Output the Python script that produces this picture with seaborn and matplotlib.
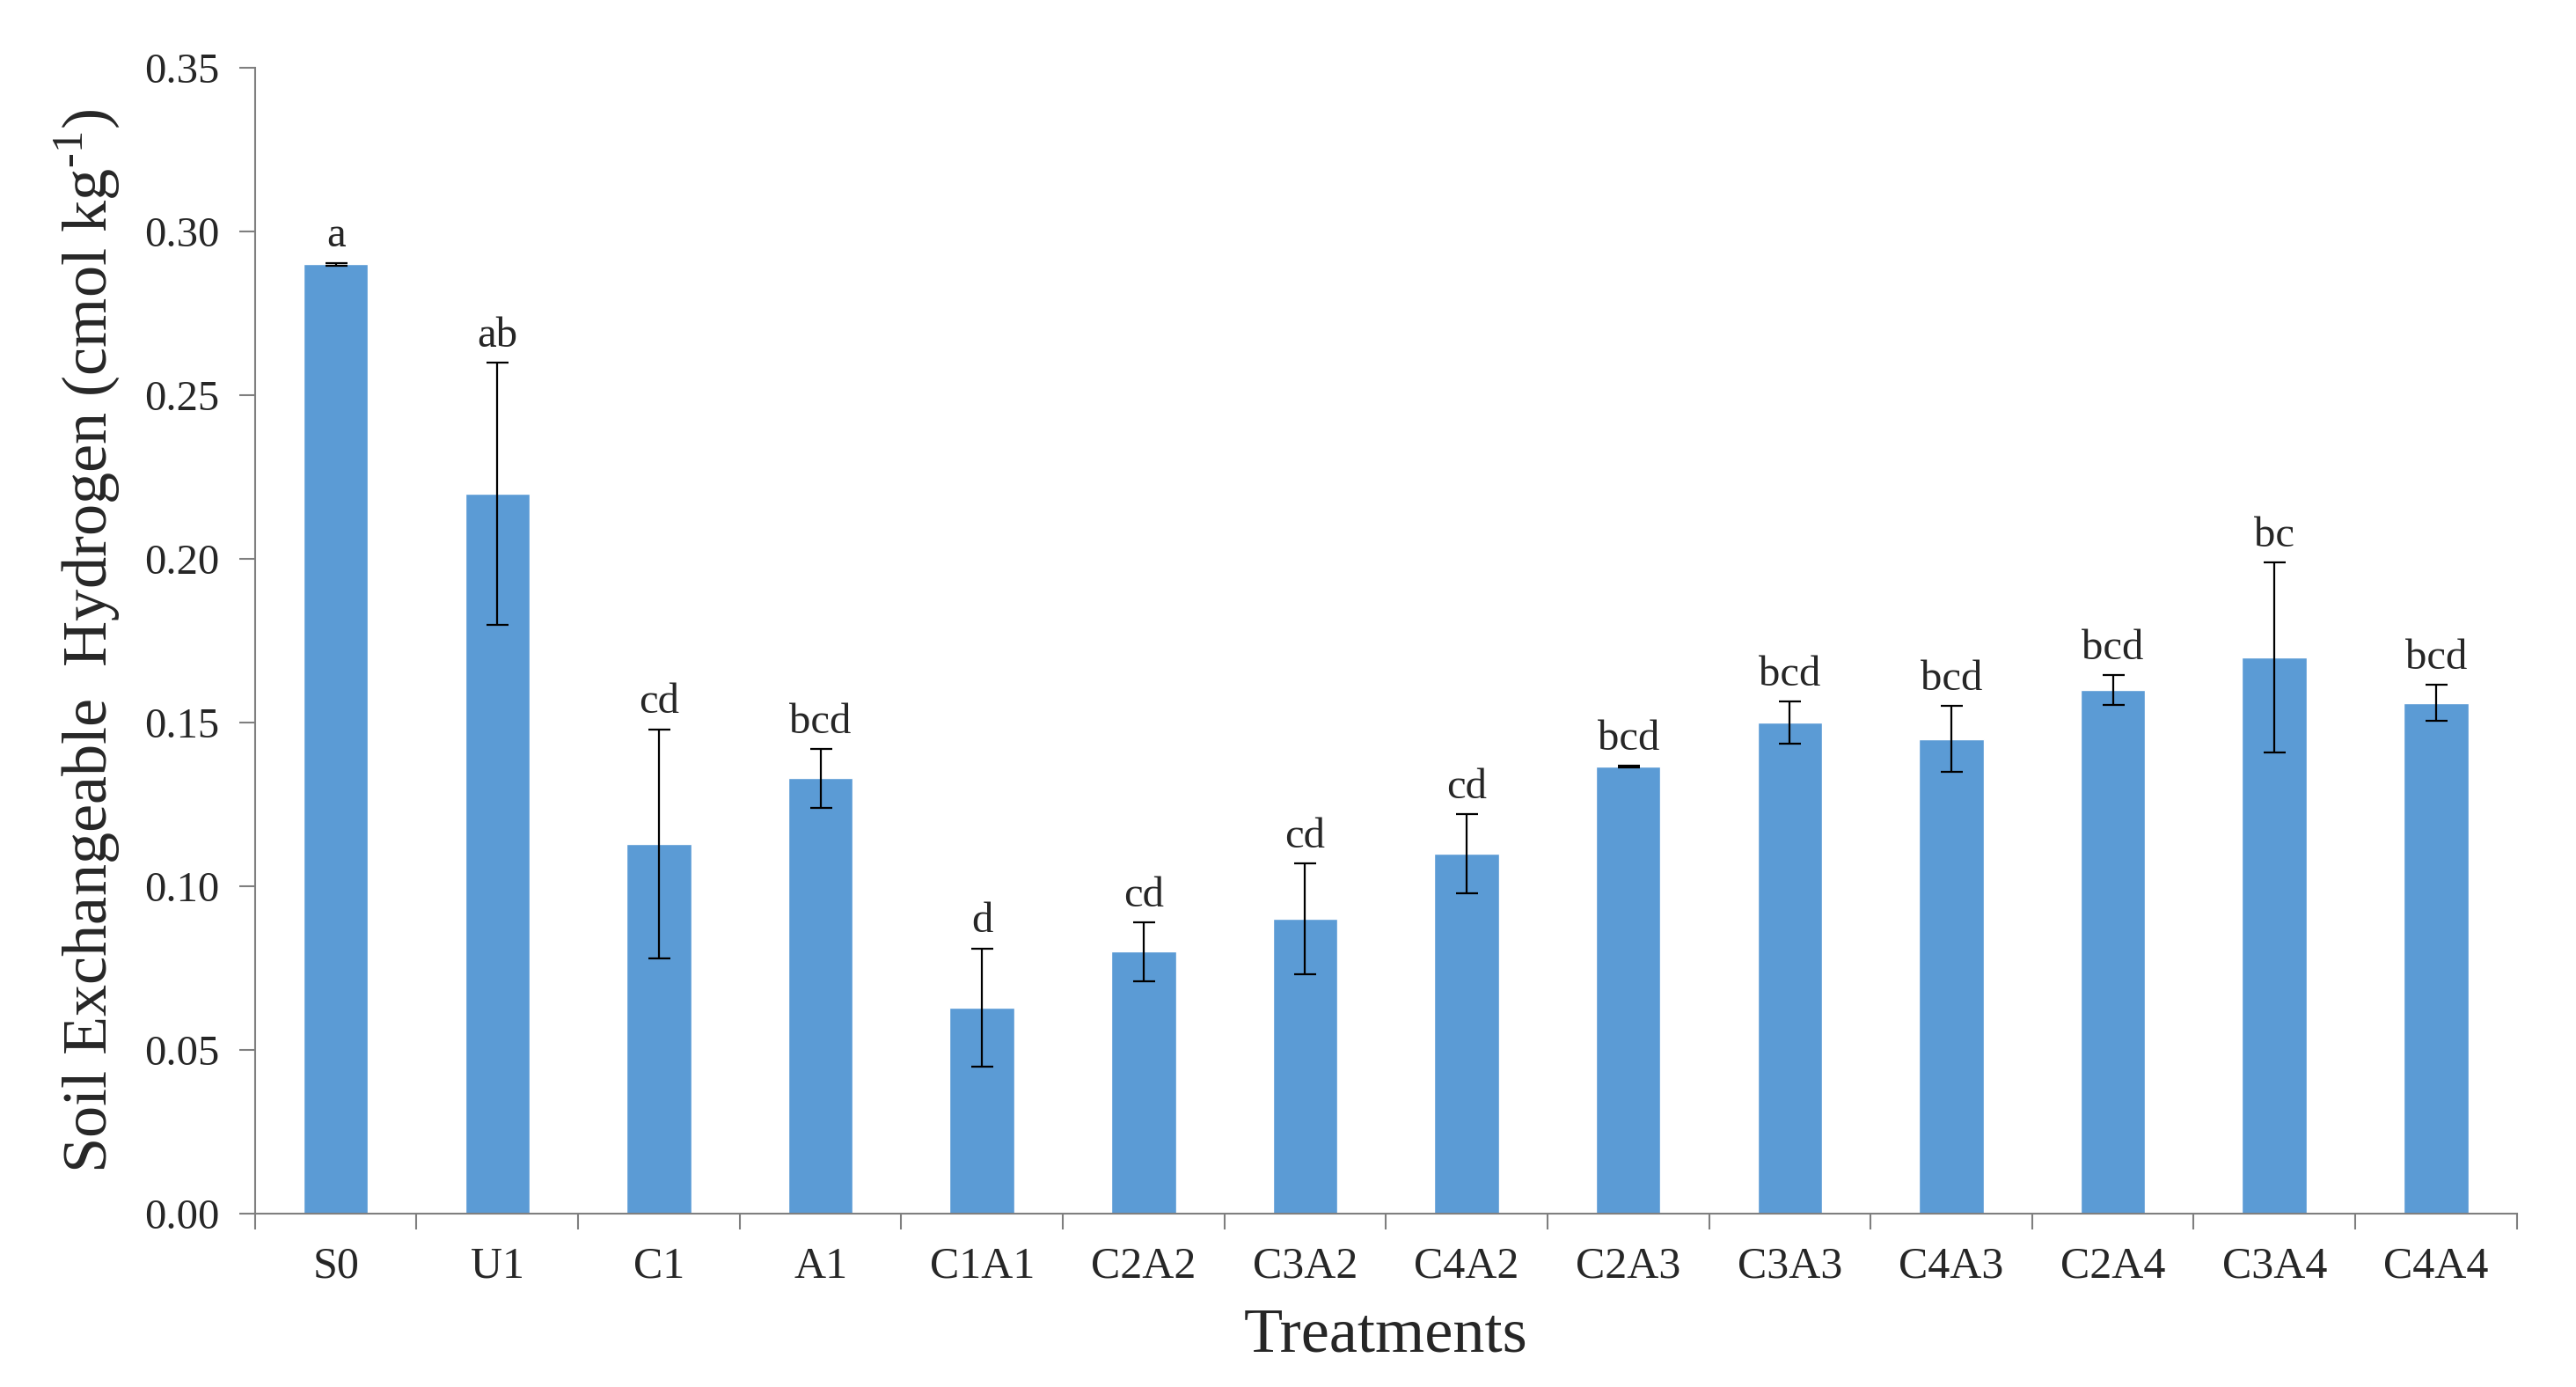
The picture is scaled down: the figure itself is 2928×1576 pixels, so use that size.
import numpy as np
import pandas as pd
import matplotlib
matplotlib.use('Agg')
import matplotlib.pyplot as plt
from matplotlib.ticker import FixedLocator
import seaborn as sns

# Данные
treatments = ['S0', 'U1', 'C1', 'A1', 'C1A1', 'C2A2', 'C3A2', 'C4A2',
              'C2A3', 'C3A3', 'C4A3', 'C2A4', 'C3A4', 'C4A4']
means = [0.290, 0.220, 0.113, 0.133, 0.063, 0.080, 0.090, 0.110,
         0.1365, 0.150, 0.145, 0.160, 0.170, 0.156]
errors = [0.0005, 0.040, 0.035, 0.009, 0.018, 0.009, 0.017, 0.012,
          0.0003, 0.0065, 0.010, 0.0045, 0.029, 0.0055]
letters = ['a', 'ab', 'cd', 'bcd', 'd', 'cd', 'cd', 'cd',
           'bcd', 'bcd', 'bcd', 'bcd', 'bc', 'bcd']

df = pd.DataFrame({'Treatment': treatments, 'Mean': means, 'SE': errors})

sns.set_style('white')
plt.rcParams['font.family'] = ['Liberation Serif', 'DejaVu Serif']
plt.rcParams['mathtext.fontset'] = 'custom'
plt.rcParams['mathtext.rm'] = 'Liberation Serif'

fig = plt.figure(figsize=(29.28, 15.76), dpi=100)
ax = fig.add_axes([0.099, 0.125, 0.878, 0.826])

sns.barplot(data=df, x='Treatment', y='Mean', color='#5B9BD5',
            width=0.4, errorbar=None, saturation=1, ax=ax)

# Планки погрешностей
ax.errorbar(np.arange(len(treatments)), df['Mean'], yerr=df['SE'],
            fmt='none', ecolor='black', elinewidth=1.6, capsize=9, capthick=1.6)

# Буквенные обозначения над столбцами
for i, (m, e, lab) in enumerate(zip(means, errors, letters)):
    ax.annotate(lab, (i, m + e), xytext=(0, 6), textcoords='offset points',
                ha='center', va='bottom', fontsize=35)

ax.set_ylim(0, 0.35)
ax.set_xlim(-0.5, len(treatments) - 0.5)
ax.set_yticks(np.arange(0, 0.351, 0.05))
ax.set_yticklabels([f'{v:.2f}' for v in np.arange(0, 0.351, 0.05)])

# Деления оси X между категориями
ax.xaxis.set_minor_locator(FixedLocator(np.arange(-0.5, len(treatments), 1)))
ax.tick_params(axis='x', which='major', length=0, pad=27, labelsize=36)
ax.tick_params(axis='x', which='minor', length=13, width=1.5, color='#7f7f7f', direction='out')
ax.tick_params(axis='y', which='major', length=13, width=1.5, color='#7f7f7f',
               direction='out', pad=16, labelsize=35, left=True)
ax.tick_params(axis='x', bottom=True, which='minor')

for s in ['top', 'right']:
    ax.spines[s].set_visible(False)
for s in ['left', 'bottom']:
    ax.spines[s].set_color('#7f7f7f')
    ax.spines[s].set_linewidth(1.5)

ax.set_xlabel('Treatments', fontsize=52, labelpad=16)
ax.set_ylabel('Soil Exchangeable  Hydrogen (cmol kg$^{\\text{-}1}$)', fontsize=52, labelpad=18)
ax.grid(False)

fig.savefig('out.png', dpi=100)
